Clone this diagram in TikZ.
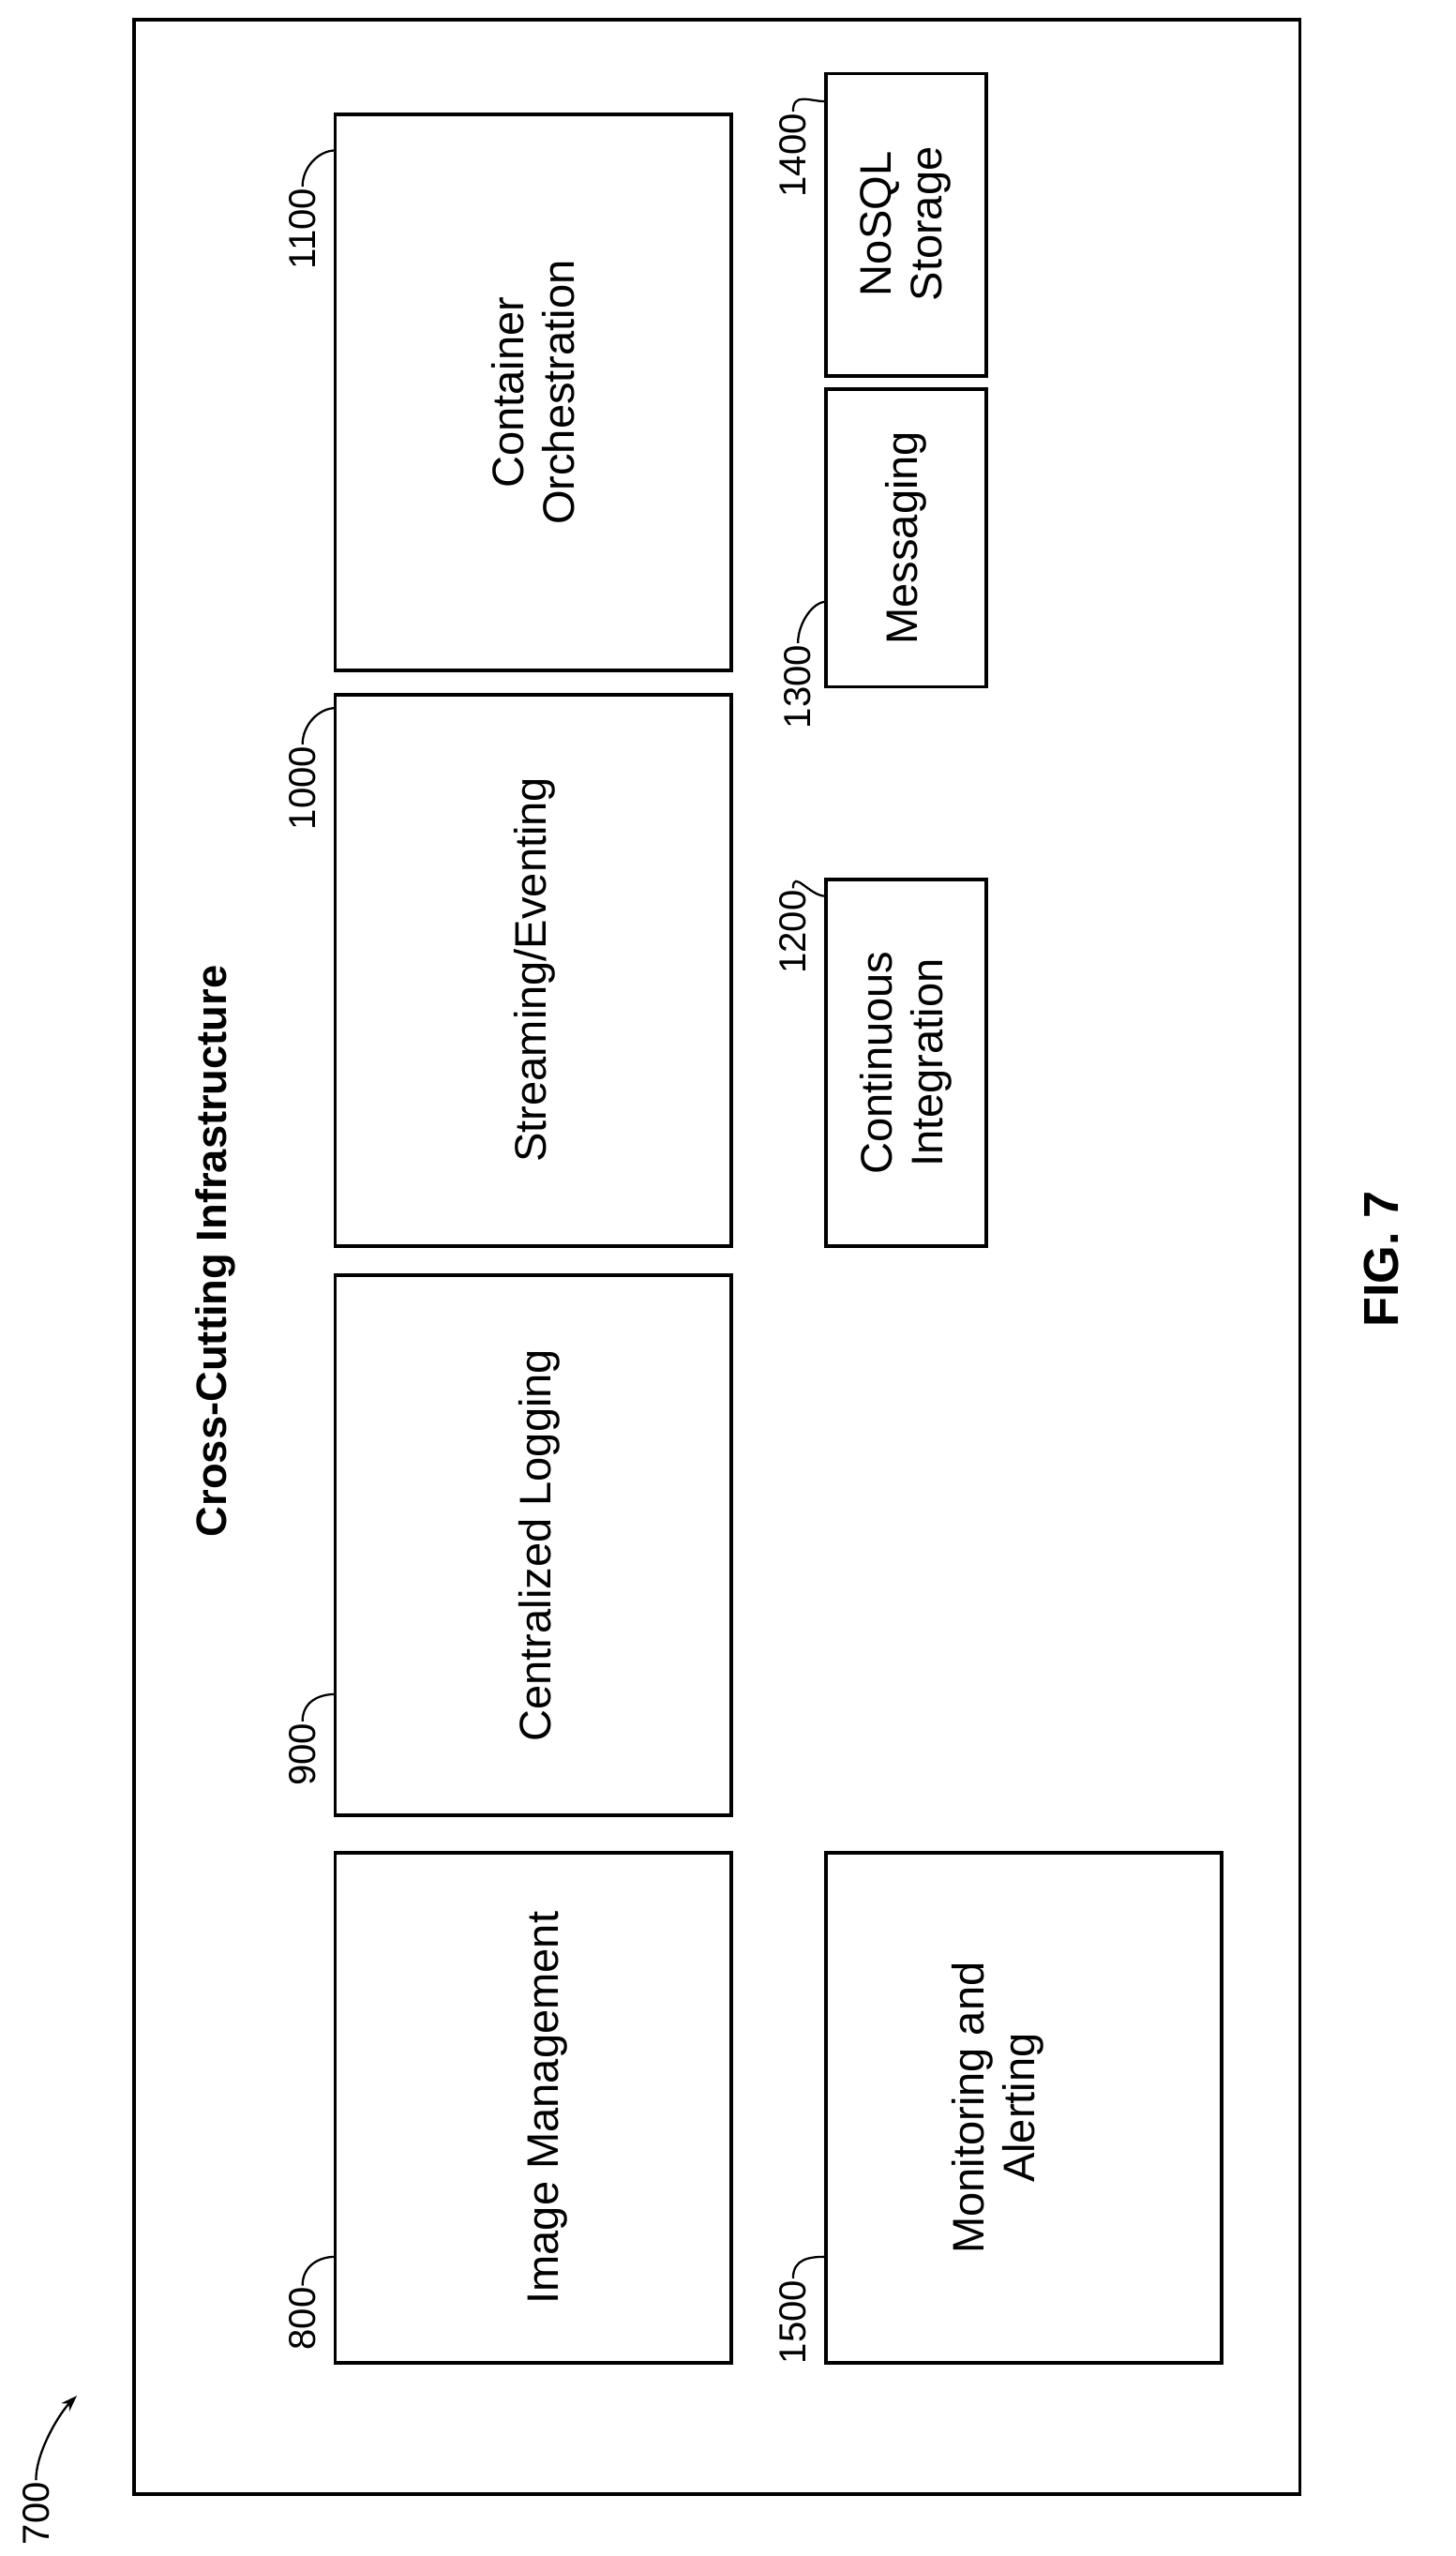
\documentclass[tikz,border=0pt]{standalone}
\usepackage{fontspec}
\setmainfont{Liberation Sans}
\usetikzlibrary{arrows.meta}
\begin{document}
\begin{tikzpicture}[x=1pt,y=-1pt,
  box/.style={draw,line width=2.2pt},
  btxt/.style={rotate=90,font=\fontsize{27}{31}\selectfont,align=center},
  lab/.style={rotate=90,font=\fontsize{23}{25}\selectfont,inner sep=1pt},
  lead/.style={line width=1.3pt}]
\useasboundingbox (0,0) rectangle (890,1563);
\draw[line width=2.2pt] (82,12) rectangle (795,1525);
\node[rotate=90,font=\bfseries\fontsize{26}{30}\selectfont] (title) at (132,765) {Cross-Cutting Infrastructure};
% boxes
\draw[box] (205,1133) rectangle (447,1445);
\node[btxt] (t800) at (335,1289) {Image Management};
\draw[box] (205,780) rectangle (447,1110);
\node[btxt] (t900) at (330,945) {Centralized Logging};
\draw[box] (205,425) rectangle (447,762);
\node[btxt] (t1000) at (327,593) {Streaming/Eventing};
\draw[box] (205,70) rectangle (447,410);
\node[btxt] (t1100) at (326,240) {Container\\Orchestration};
\draw[box] (505,538) rectangle (603,762);
\node[btxt] (t1200) at (554,650) {Continuous\\Integration};
\draw[box] (505,238) rectangle (603,420);
\node[btxt] (t1300) at (554,329) {Messaging};
\draw[box] (505,45) rectangle (603,230);
\node[btxt] (t1400) at (554,137) {NoSQL\\Storage};
\draw[box] (505,1133) rectangle (747,1445);
\node[btxt] (t1500) at (610,1289) {Monitoring and\\Alerting};
% labels
\node[lab] (l800) at (185,1418) {800};
\coordinate (e800) at (205,1380);
\draw[lead] (l800.east) .. controls +(0,-12) and +(-10,0) .. (e800);
\node[lab] (l900) at (185,1073) {900};
\coordinate (e900) at (205,1036);
\draw[lead] (l900.east) .. controls +(0,-12) and +(-10,0) .. (e900);
\node[lab] (l1000) at (185,482) {1000};
\coordinate (e1000) at (205,433);
\draw[lead] (l1000.east) .. controls +(0,-12) and +(-10,0) .. (e1000);
\node[lab] (l1100) at (185,140) {1100};
\coordinate (e1100) at (205,92);
\draw[lead] (l1100.east) .. controls +(0,-12) and +(-10,0) .. (e1100);
\node[lab] (l1200) at (485,570) {1200};
\coordinate (e1200) at (505,548);
\draw[lead] (l1200.east) .. controls +(0,-12) and +(-10,0) .. (e1200);
\node[lab] (l1300) at (488,420) {1300};
\coordinate (e1300) at (505,368);
\draw[lead] (l1300.east) .. controls +(0,-12) and +(-8,0) .. (e1300);
\node[lab] (l1400) at (485,95) {1400};
\coordinate (e1400) at (505,62);
\draw[lead] (l1400.east) .. controls +(0,-12) and +(-10,0) .. (e1400);
\node[lab] (l1500) at (485,1420) {1500};
\coordinate (e1500) at (505,1380);
\draw[lead] (l1500.east) .. controls +(0,-12) and +(-10,0) .. (e1500);
\node[lab] (l700) at (22,1537) {700};
\coordinate (e700) at (47,1465);
\draw[lead,-{Stealth[length=10pt,width=7pt]}] (l700.east) .. controls +(0,-18) and +(-10,10) .. (e700);
\node[rotate=90,font=\bfseries\fontsize{30}{34}\selectfont] (fig) at (845,770) {FIG. 7};
\end{tikzpicture}
\end{document}
